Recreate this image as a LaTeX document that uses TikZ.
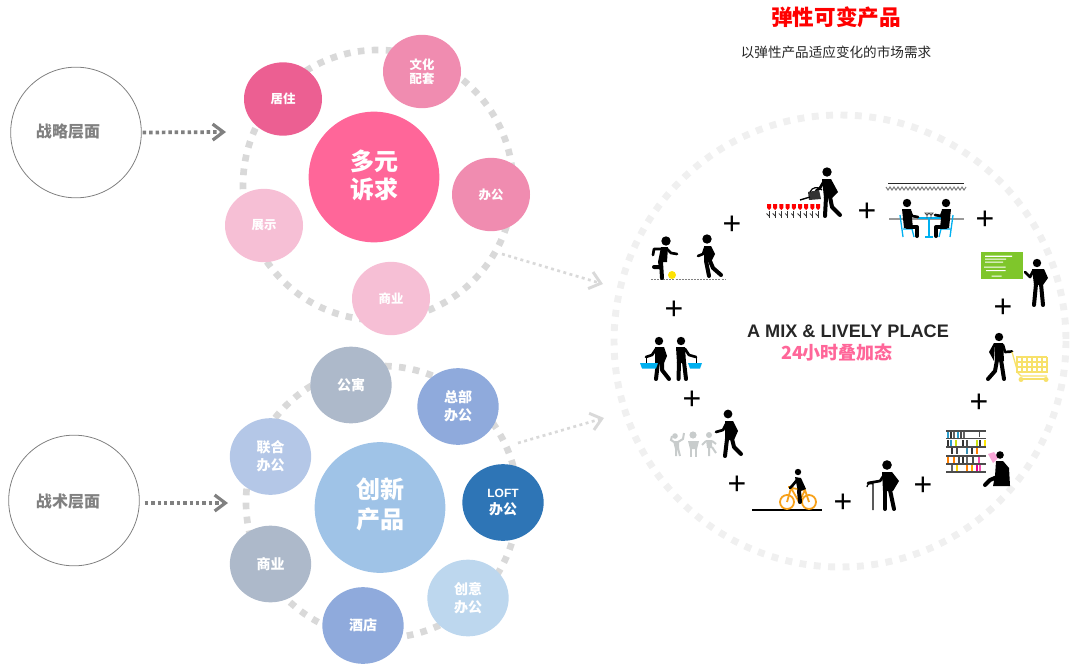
\documentclass[tikz,border=0pt]{standalone}
\usepackage{fontspec}
\setmainfont{Noto Sans CJK SC}
\newfontfamily\lat{Liberation Sans}
\usetikzlibrary{arrows.meta,shapes.geometric}
\definecolor{pk}{HTML}{FF6699}
\definecolor{pkA}{HTML}{EC5F92}
\definecolor{pkB}{HTML}{F08CB0}
\definecolor{pkC}{HTML}{F6BFD5}
\definecolor{blA}{HTML}{9FC3E7}
\definecolor{blB}{HTML}{ADB9CA}
\definecolor{blC}{HTML}{8FAADC}
\definecolor{blD}{HTML}{2E75B6}
\definecolor{blE}{HTML}{BDD7EE}
\definecolor{blF}{HTML}{B4C7E7}
\definecolor{cy}{HTML}{00B0F0}
\definecolor{og}{HTML}{F7A11A}
\definecolor{yl}{HTML}{F7E16B}
\definecolor{crowd}{HTML}{C8CCCC}
\definecolor{board}{HTML}{7FC62B}
\tikzset{
  px/.style={line width=#1*0.75pt},
  bubA/.style={ellipse,inner sep=0pt,minimum width=58.5pt,minimum height=55pt,text=white,font=\bfseries\fontsize{9.3}{10.8}\selectfont,align=center},
  bubB/.style={ellipse,inner sep=0pt,minimum width=61pt,minimum height=57.5pt,text=white,font=\bfseries\fontsize{10.5}{13.3}\selectfont,align=center},
  big/.style={circle,inner sep=0pt,minimum size=98pt},
  bigtext/.style={text=white,font=\bfseries\fontsize{18}{#1}\selectfont,align=center},
  level/.style={circle,draw=black!50,line width=0.6pt,minimum size=98pt,inner sep=0pt},
  leveltext/.style={text=black!50,font=\bfseries\fontsize{12}{14}\selectfont},
  ringA/.style={draw=black!15,line width=5pt,dash pattern=on 5pt off 5.5pt},
  ringB/.style={draw=black!6,line width=5.2pt,dash pattern=on 5.2pt off 5.6pt},
  darrow/.style={draw=black!50,line width=2.8pt,dash pattern=on 2.6pt off 2.2pt,-{Straight Barb[length=8pt,width=12pt,line width=2.4pt]}},
  larrow/.style={draw=black!15,line width=2pt,dash pattern=on 2.2pt off 2.6pt,-{Straight Barb[length=8pt,width=13pt,line width=2.2pt]}},
  plus/.style={font=\lat\fontsize{24}{24}\selectfont,text=black,inner sep=0pt},
  leg/.style={line width=3pt,line cap=round,line join=round,black},
  arm/.style={line width=2pt,line cap=round,line join=round,black},
  stem/.style={line width=0.6pt,black!80},
}
\begin{document}
\begin{tikzpicture}[x=0.75pt,y=-0.75pt]
\useasboundingbox (0,0) rectangle (1080,667);
% rings
\draw[ringA] (378,185) circle (135);
\draw[ringA] (382,502) circle (136);
\draw[ringB] (840,341) circle (226);
% level circles
\node[level,label={[leveltext,xshift=-6pt,yshift=1pt]center:战略层面}] (s1) at (76,132.5) {};
\node[level,label={[leveltext,xshift=-4.5pt,yshift=-1pt]center:战术层面}] (s2) at (74,500.5) {};
% top bubbles
\node[big,fill=pk,label={[bigtext=21,yshift=1.5pt]center:多元\\诉求}] (m1) at (374,177) {};
\node[bubA,fill=pkA] (a1) at (283,99) {居住};
\node[bubA,fill=pkB] (a2) at (422,71.5) {文化\\配套};
\node[bubA,fill=pkB] (a3) at (491,194.5) {办公};
\node[bubA,fill=pkC] (a4) at (391,298.5) {商业};
\node[bubA,fill=pkC] (a5) at (264,225.5) {展示};
% bottom bubbles
\node[big,fill=blA,label={[bigtext=22.5,yshift=2.5pt]center:创新\\产品}] (m2) at (380,507.5) {};
\node[bubB,fill=blB] (b1) at (351,385) {公寓};
\node[bubB,fill=blC] (b2) at (458,406.5) {总部\\办公};
\node[bubB,fill=blD] (b3) at (503,502.5) {{\lat\fontsize{9}{13.3}\selectfont LOFT}\\办公};
\node[bubB,fill=blE] (b4) at (468,598) {创意\\办公};
\node[bubB,fill=blC] (b5) at (363,625.5) {酒店};
\node[bubB,fill=blB] (b6) at (270.5,564) {商业};
\node[bubB,fill=blF] (b7) at (270.5,456.5) {联合\\办公};
% arrows
\coordinate (e1) at (226,132);
\coordinate (e2) at (228,503);
\coordinate (ls1) at (502,254);
\coordinate (le1) at (603,284);
\coordinate (ls2) at (518,443);
\coordinate (le2) at (604,418);
\draw[darrow] (s1.east) ++(1,0) -- (e1);
\draw[darrow] (s2.east) ++(5,2.5) -- (e2);
\draw[larrow] (ls1) -- (le1);
\draw[larrow] (ls2) -- (le2);
% titles
\node[text=red,font=\bfseries\fontsize{16.2}{18}\selectfont] (t1) at (836,17) {弹性可变产品};
\node[text=black!85,font=\fontsize{10.2}{12}\selectfont] (t2) at (836,52) {以弹性产品适应变化的市场需求};
\node[text=black!85,font=\lat\bfseries\fontsize{13.6}{15}\selectfont] (t3) at (848,331) {A MIX \& LIVELY PLACE};
\node[text=pk,font=\bfseries\fontsize{13.5}{15}\selectfont] (t4) at (837,353) {24小时叠加态};
% plus signs
\foreach \nm/\x/\y in {p1/732/225,p2/867/212,p3/985/220,p4/1003/308,p5/979/403,p6/923/486,p7/843/503,p8/737/485,p9/692/400,p10/674/310}
  \node[plus] (\nm) at (\x,\y) {+};
% --- kicker and walker
\draw[black!50,px=1,dash pattern=on 1.5pt off 0.8pt] (651,279) -- (725,279);
\fill (666,241) circle (4.7);
\fill (661,247) -- (668,247) -- (667,262) -- (658,262) -- cycle;
\draw[leg] (661,262) -- (662,278);
\draw[leg] (660,262) -- (661,267) -- (654,267);
\draw[arm] (661,249) -- (654,249) -- (653,255);
\draw[arm] (667,249) -- (671,253) -- (677,254);
\fill[yellow!85!orange] (672,275) circle (4);
\fill (707,239) circle (4.7);
\fill (704,246) -- (711,246) -- (715,254) -- (711,262) -- (704,262) -- cycle;
\draw[leg] (706,261) -- (709,276);
\draw[leg] (710,261) -- (713,268) -- (721,275);
\draw[arm] (705,248) -- (703,254) -- (698,256);
% --- waterer
\foreach \x in {769,775.2,781.4,787.6,793.8,800,806.2,812.4,818}{
  \fill[red] (\x-2,204) rectangle (\x+2,208) (\x-2,208) -- (\x+2,208) -- (\x,210) -- cycle;
  \draw[stem] (\x,211) -- (\x,218);
  \draw[stem] (\x,216) -- (\x-2.5,213.5);
}
\fill (827,172) circle (4.7);
\fill (822,179) -- (831,179) -- (838,192) -- (832,198) -- (824,198) -- cycle;
\draw[leg] (826,197) -- (825,216);
\draw[leg] (830,197) -- (832,207) -- (840,215);
\draw[arm] (824,181) -- (820,188) -- (816,191);
\fill[black!80] (808,192) -- (819,190) -- (821,199) -- (809,200) -- cycle;
\draw[px=1.4] (800,200) -- (810,197);
\draw[px=1.2] (810,192) .. controls (812,187) and (818,186) .. (822,190);
% --- diners
\draw[black!85,px=1] (888,183) -- (964,183);
\draw[black!50,px=1] (886,187) \foreach \i in {1,...,20}{-- ++(2,3) -- ++(2,-3)};
\draw[black!40,px=1.2] (889,219) -- (964,219);
\draw[cy,px=1.3] (900,215) -- (903,237) (903,229) -- (912,229) -- (914,237);
\draw[cy,px=1.3] (953,215) -- (950,237) (950,229) -- (941,229) -- (939,237);
\draw[cy,px=1.6] (918,218) -- (941,218) (929,218) -- (929,237) (925,237) -- (933,237);
\fill (907,203) circle (4.2);
\fill (946,203) circle (4.2);
\fill (902,209) -- (911,209) -- (913,228) -- (904,228) -- cycle;
\fill (951,209) -- (942,209) -- (940,228) -- (949,228) -- cycle;
\draw[leg] (907,227) -- (917,227) -- (917,236);
\draw[leg] (946,227) -- (936,227) -- (936,236);
\draw[arm] (910,211) -- (912,216) -- (918,217);
\draw[arm] (943,211) -- (941,216) -- (935,215);
\draw[black!70,px=0.8] (927,218) -- (927,214) (925,213) -- (929,213) -- (927,215.5) -- cycle (931,218) -- (931,214) (929,213) -- (933,213) -- (931,215.5) -- cycle;
% --- green board
\fill[board] (981,252) rectangle (1023,279);
\fill[white] (985,255.5) rectangle (1012,256.8) (985,258.5) rectangle (1006,259.7) (985,261.5) rectangle (1003,262.7) (984,266.5) rectangle (1005.5,267.7) (986,270) rectangle (1005.5,271) (991.5,275.5) rectangle (1001.5,276.7);
\fill (1037,263) circle (4.2);
\fill (1032,269) -- (1044,269) -- (1048,278) -- (1043,285) -- (1034,285) -- cycle;
\draw[leg] (1036,284) -- (1034,305);
\draw[leg] (1041,284) -- (1043,305);
\draw[arm] (1033,271) -- (1030,277) -- (1025,272);
% --- shopper + cart
\fill (999,337) circle (4.2);
\fill (994,343) -- (1003,343) -- (1004,361) -- (995,361) -- cycle;
\fill (994,343) -- (989,352) -- (994,361) -- cycle;
\draw[leg] (997,360) -- (995,371) -- (988,379);
\draw[leg] (1001,360) -- (1004,379);
\draw[arm] (1003,345) -- (1005,352) -- (1012,351.5);
\draw[yl,px=1.3] (1012,352) -- (1018,373) -- (1021,376) -- (1047,376);
\foreach \x in {1017,1022,1027,1032,1037,1042,1047} \draw[yl,px=1.2] (\x,357) -- (\x,373);
\foreach \y in {357,362,367,372} \draw[yl,px=1.2] (1016,\y) -- (1047,\y);
\fill[yl] (1021,379.5) circle (2.5) (1046,379.5) circle (2.5);
\draw[yl,px=2.2] (1021,379) -- (1046,379);
% --- two shoppers
\fill (659,341) circle (4.2);
\fill (681,341) circle (4.2);
\fill (655,347) -- (664,347) -- (667,356) -- (664,363) -- (655,363) -- cycle;
\fill (676,347) -- (685,347) -- (686,363) -- (677,363) -- cycle;
\draw[leg] (658,362) -- (656,379);
\draw[leg] (662,362) -- (662,370) -- (669,379);
\draw[leg] (679,362) -- (678.5,379);
\draw[leg] (684,362) -- (686,379);
\draw[arm] (656,349) -- (652,355) -- (646,357);
\draw[arm] (685,349) -- (689,355) -- (696,357);
\draw[black,px=0.8] (646,357) -- (646,364) (696,357) -- (696,364);
\fill[cy] (640,363) -- (658,363) -- (656,368.5) -- (642,368.5) -- cycle;
\fill[cy] (688,363) -- (702,363) -- (700,368.5) -- (690,368.5) -- cycle;
% --- crowd + walker
\fill[crowd] (675,436) circle (2.8) (693,435) circle (3.6) (709,435) circle (3);
\fill[crowd] (673,441) -- (679,441) -- (679,449) -- (675,449) -- cycle;
\draw[crowd,px=2] (674,442) -- (671,440) -- (672,436) (678,442) -- (683,439) -- (684,433) (676,448) -- (676,456) (678,448) -- (680,456);
\fill[crowd] (688,441) -- (699,441) -- (697,449) -- (690,449) -- cycle;
\draw[crowd,px=2.2] (691,448) -- (691,457) (696,448) -- (696,457);
\fill[crowd] (706,440) -- (712,440) -- (712,448) -- (707,448) -- cycle;
\draw[crowd,px=2] (706,441) -- (702,445) (712,441) -- (716,444) (709,447) -- (709,456) (712,447) -- (716,453);
\fill (728,414) circle (4.4);
\fill (725,421) -- (733,421) -- (738,431) -- (734,440) -- (725,440) -- cycle;
\draw[leg] (727,439) -- (725,456);
\draw[leg] (732,439) -- (734,447) -- (741,454);
\draw[arm] (726,424) -- (723,430) -- (716,432);
% --- bookshelf + reader
\foreach \y in {431,438.5,447,456,464,472} \draw[black!70,px=1.2] (946,\y) -- (986,\y);
\foreach \x/\y/\c in {947/432/cyan!80!black,950/432/black!80,953/432/white!40!black,957/432/cyan!80!black,960/432/black!70,963/432/black!60,
  947/439.5/black!80,950/439.5/cyan!80!black,955/439.5/yellow!80!green,962/439.5/black!80,966/439.5/black!70,976/439.5/yellow!80!green,979/439.5/black!80,984/439.5/yellow!90!orange,
  951/448/black!80,956/448/black!70,966/448/cyan!70!black,971/448/black!80,976/448/orange,
  947/457/orange,953/457/orange,958/457/black!70,962/457/black!80,966/457/black!60,972/457/black!70,978/457/magenta!70,
  951/465/black!60,956/465/yellow!70!orange,966/465/orange,971/465/orange!70!yellow,976/465/magenta,979/465/magenta!70}
  \fill[\c] (\x,\y) rectangle (\x+2,\y+6);
\draw[black!70,px=1] (979,432) -- (979,437) ;
\fill[magenta!35] (988,454) -- (994,452) -- (998,458) -- (993,463) -- cycle;
\fill (1000,455) circle (3.8);
\fill (996,461) -- (1003,461) -- (1009,468) -- (1010,486) -- (993,486) -- (995,476) -- cycle;
\draw[leg] (997,477) -- (990,480) -- (985,485);
% --- old man
\fill (887,465) circle (4.8);
\fill (882,472) -- (892,472) -- (899,481) -- (893,491) -- (883,491) -- cycle;
\draw[leg] (885,490) -- (885,509);
\draw[leg] (890,490) -- (894,509);
\draw[arm] (884,475) -- (880,481) -- (868,483);
\draw[black,px=1.2] (873,510) -- (873,483) (873,484) .. controls (870,483) and (867,484) .. (867,487);
% --- bicycle
\draw[black,px=1.6] (752,510) -- (822,510);
\draw[og,px=1.8] (787,502) circle (7) (809,502) circle (7);
\draw[og,px=1.8] (787,502) -- (791,488) -- (805,490) -- (809,502) (791,488) -- (799,502) -- (805,490) (788,487) -- (793,487);
\fill (798,472) circle (3.2);
\fill (795,477) -- (801,478) -- (806,489) -- (798,492) -- cycle;
\draw[arm] (797,480) -- (792,486) -- (790,488);
\draw[leg] (799,491) -- (800,502);
\end{tikzpicture}
\end{document}
